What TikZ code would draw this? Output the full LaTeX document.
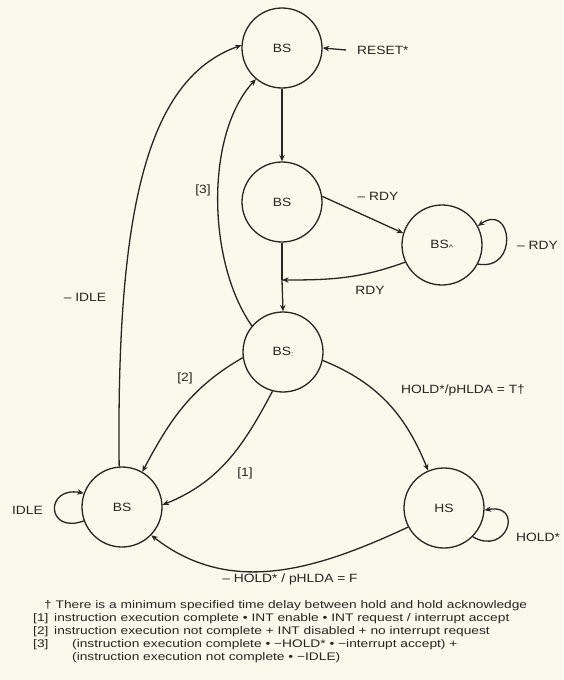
\documentclass[tikz,border=0pt]{standalone}
\usepackage{fontspec}
\setmainfont{Liberation Sans}
\newfontfamily\labelfont[FakeStretch=1.15]{Liberation Sans}
\newfontfamily\notefont[FakeStretch=1.25]{Liberation Sans}
\usetikzlibrary{arrows.meta}
\definecolor{paper}{RGB}{251,248,236}
\definecolor{ink}{RGB}{40,37,34}
\begin{document}
\begin{tikzpicture}[x=1pt,y=-1pt,
  st/.style={circle, draw=ink, line width=1.3pt, minimum size=80pt, inner sep=0pt,
             text=ink, font=\labelfont\fontsize{12}{14}\selectfont},
  arr/.style={draw=ink, line width=1.3pt, -{Stealth[length=6.5pt,width=5.5pt]}},
  ln/.style={draw=ink, line width=1.3pt},
  lbl/.style={text=ink, inner sep=1pt, font=\labelfont\fontsize{12}{14}\selectfont},
  fn/.style={text=ink, inner sep=0pt, anchor=west, font=\notefont\fontsize{11}{13}\selectfont}]
\fill[paper] (0,0) rectangle (563,680);
\useasboundingbox (0,0) rectangle (563,680);

% states
\node[st] (bs0) at (282,48) {BS};
\node[st] (bs1) at (282,202) {BS};
\node[st] (bsa) at (442,245) {BS\textsubscript{\^{}}};
\node[st] (bs2) at (283,352) {BS\raisebox{-1pt}{\scriptsize:}};
\node[st] (bs3) at (122,507) {BS};
\node[st] (hs)  at (444,508) {HS};

% reset input
\node[lbl, anchor=west] (reset) at (356,50) {RESET*};
\coordinate (rs) at (346,50);
\draw[arr] (rs) -- (bs0.east);

% main chain
\draw[arr] (bs0) -- (bs1);
\coordinate (j1) at (282,280);
\draw[ln] (bs1.south) -- (j1);
\draw[arr] (j1) -- (bs2.north);

% ready / not ready
\draw[arr] (bs1.8) -- (bsa.163);
\node[lbl] (nrdy) at (378,196) {– RDY};
\draw[arr] (bsa.205) to[out=-160, in=0] (j1);
\node[lbl] (rdy) at (370,290) {RDY};
\draw[arr] (bsa.-28) .. controls +(-10:42pt) and +(35:42pt) .. (bsa.28);
\node[lbl, anchor=west] (nrdy2) at (516,245) {– RDY};

% return paths to the top state
\draw[arr] (bs2.140) .. controls (207,262) and (205,134) .. (bs0.-130);
\node[lbl] (c3) at (203,190) {[3]};
\draw[arr] (bs3.94) .. controls (116,200) and (150,78) .. (bs0.176);
\node[lbl] (nidle) at (85,297) {– IDLE};

% transitions into the idle-side state
\draw[arr] (bs2.188) to[out=-150, in=62] (bs3.60);
\node[lbl] (c2) at (185,378) {[2]};
\draw[arr] (bs2.-105) to[out=-118, in=22] (bs3.3);
\node[lbl] (c1) at (245,473) {[1]};
\draw[arr] (bs3.-160) .. controls +(-160:40pt) and +(170:40pt) .. (bs3.160);
\node[lbl, anchor=east] (idle) at (44,510) {IDLE};

% hold state
\draw[arr] (bs2.-12) to[out=-22, in=112] (hs.113);
\node[lbl] (holdt) at (463,390) {HOLD*/pHLDA = T†};
\draw[arr] (hs.-45) .. controls +(-30:40pt) and +(10:40pt) .. (hs.-3);
\node[lbl, anchor=west] (hold) at (515,537) {HOLD*};
\draw[arr] (hs.-152) to[out=-155, in=-38] (bs3.-44);
\node[lbl] (holdf) at (290,579) {– HOLD* / pHLDA = F};

% notes
\node[fn] (n0) at (44,606) {† There is a minimum specified time delay between hold and hold acknowledge};
\node[fn] (k1) at (33,619) {[1]};
\node[fn] (n1) at (54,619) {instruction execution complete • INT enable • INT request / interrupt accept};
\node[fn] (k2) at (33,632) {[2]};
\node[fn] (n2) at (54,632) {instruction execution not complete + INT disabled + no interrupt request};
\node[fn] (k3) at (33,645) {[3]};
\node[fn] (n3) at (72,645) {(instruction execution complete • −HOLD* • −interrupt accept) +};
\node[fn] (n4) at (72,658) {(instruction execution not complete • −IDLE)};
\end{tikzpicture}
\end{document}
